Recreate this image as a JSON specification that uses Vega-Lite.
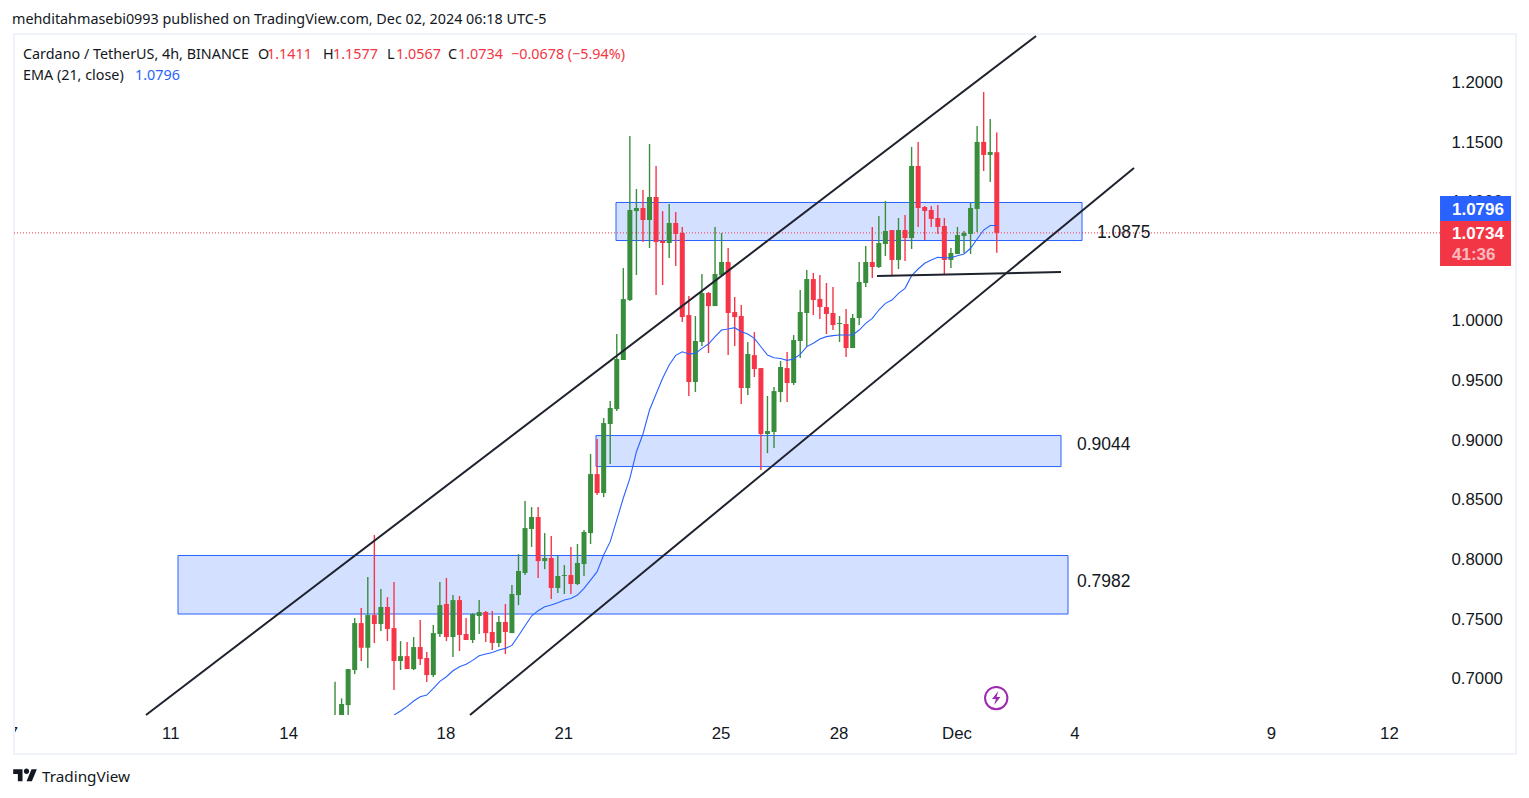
{
"$schema":"https://vega.github.io/schema/vega-lite/v6.json",
"width":1502,"height":680,"autosize":"none","background":"#ffffff",
"padding":{"left":14,"top":35,"right":13,"bottom":83},
"title":{"text":"mehditahmasebi0993 published on TradingView.com, Dec 02, 2024 06:18 UTC-5","anchor":"start","frame":"group","dx":-2,"offset":5,"font":"Noto Sans","fontSize":14.35,"fontWeight":"normal","color":"#131722"},
"config":{"view":{"stroke":null}},
"datasets":{
"candles":[
{"date":"2024-11-15T04:00Z","open":0.650,"high":0.6969,"low":0.645,"close":0.660,"dir":"up"},
{"date":"2024-11-15T08:00Z","open":0.664,"high":0.6829,"low":0.655,"close":0.6782,"dir":"up"},
{"date":"2024-11-15T12:00Z","open":0.6773,"high":0.7075,"low":0.662,"close":0.7075,"dir":"up"},
{"date":"2024-11-15T16:00Z","open":0.7067,"high":0.7503,"low":0.7033,"close":0.7461,"dir":"up"},
{"date":"2024-11-15T20:00Z","open":0.7461,"high":0.7587,"low":0.7143,"close":0.7254,"dir":"down"},
{"date":"2024-11-16T00:00Z","open":0.7254,"high":0.7847,"low":0.7084,"close":0.7528,"dir":"up"},
{"date":"2024-11-16T04:00Z","open":0.7528,"high":0.8200,"low":0.7294,"close":0.7453,"dir":"down"},
{"date":"2024-11-16T08:00Z","open":0.7453,"high":0.7747,"low":0.7394,"close":0.7596,"dir":"up"},
{"date":"2024-11-16T12:00Z","open":0.7596,"high":0.7679,"low":0.7310,"close":0.7411,"dir":"down"},
{"date":"2024-11-16T16:00Z","open":0.7419,"high":0.7805,"low":0.6899,"close":0.7143,"dir":"down","ema":0.6690},
{"date":"2024-11-16T20:00Z","open":0.7143,"high":0.7310,"low":0.7067,"close":0.7184,"dir":"up","ema":0.6723},
{"date":"2024-11-17T00:00Z","open":0.7184,"high":0.7302,"low":0.7075,"close":0.7075,"dir":"down","ema":0.6762},
{"date":"2024-11-17T04:00Z","open":0.7075,"high":0.7344,"low":0.7067,"close":0.7260,"dir":"up","ema":0.6807},
{"date":"2024-11-17T08:00Z","open":0.7260,"high":0.7486,"low":0.7109,"close":0.7159,"dir":"down","ema":0.6843},
{"date":"2024-11-17T12:00Z","open":0.7168,"high":0.7218,"low":0.6966,"close":0.7025,"dir":"down","ema":0.6857},
{"date":"2024-11-17T16:00Z","open":0.7025,"high":0.7445,"low":0.7008,"close":0.7377,"dir":"up","ema":0.6913},
{"date":"2024-11-17T20:00Z","open":0.7369,"high":0.7805,"low":0.7344,"close":0.7612,"dir":"up","ema":0.6972},
{"date":"2024-11-18T00:00Z","open":0.7621,"high":0.7839,"low":0.7310,"close":0.7344,"dir":"down","ema":0.7011},
{"date":"2024-11-18T04:00Z","open":0.7344,"high":0.7696,"low":0.7176,"close":0.7654,"dir":"up","ema":0.7061},
{"date":"2024-11-18T08:00Z","open":0.7654,"high":0.7688,"low":0.7226,"close":0.7361,"dir":"down","ema":0.7095},
{"date":"2024-11-18T12:00Z","open":0.7369,"high":0.7503,"low":0.7319,"close":0.7319,"dir":"down","ema":0.7115},
{"date":"2024-11-18T16:00Z","open":0.7319,"high":0.7545,"low":0.7294,"close":0.7537,"dir":"up","ema":0.7148},
{"date":"2024-11-18T20:00Z","open":0.7520,"high":0.7654,"low":0.7369,"close":0.7554,"dir":"up","ema":0.7187},
{"date":"2024-11-19T00:00Z","open":0.7554,"high":0.7562,"low":0.7302,"close":0.7377,"dir":"down","ema":0.7201},
{"date":"2024-11-19T04:00Z","open":0.7386,"high":0.7562,"low":0.7235,"close":0.7294,"dir":"down","ema":0.7215},
{"date":"2024-11-19T08:00Z","open":0.7294,"high":0.7520,"low":0.7260,"close":0.7470,"dir":"up","ema":0.7235},
{"date":"2024-11-19T12:00Z","open":0.7470,"high":0.7621,"low":0.7201,"close":0.7386,"dir":"down","ema":0.7249},
{"date":"2024-11-19T16:00Z","open":0.7377,"high":0.7780,"low":0.7377,"close":0.7705,"dir":"up","ema":0.7274},
{"date":"2024-11-19T20:00Z","open":0.7696,"high":0.8040,"low":0.7612,"close":0.7898,"dir":"up","ema":0.7355},
{"date":"2024-11-20T00:00Z","open":0.7881,"high":0.8485,"low":0.7864,"close":0.8258,"dir":"up","ema":0.7439},
{"date":"2024-11-20T04:00Z","open":0.8250,"high":0.8434,"low":0.8099,"close":0.8351,"dir":"up","ema":0.7520},
{"date":"2024-11-20T08:00Z","open":0.8351,"high":0.8434,"low":0.7839,"close":0.7981,"dir":"down","ema":0.7565},
{"date":"2024-11-20T12:00Z","open":0.7981,"high":0.8216,"low":0.7914,"close":0.8007,"dir":"up","ema":0.7598},
{"date":"2024-11-20T16:00Z","open":0.8007,"high":0.8191,"low":0.7663,"close":0.7755,"dir":"down","ema":0.7612},
{"date":"2024-11-20T20:00Z","open":0.7755,"high":0.8023,"low":0.7713,"close":0.7856,"dir":"up","ema":0.7632},
{"date":"2024-11-21T00:00Z","open":0.7856,"high":0.7948,"low":0.7705,"close":0.7864,"dir":"up","ema":0.7654},
{"date":"2024-11-21T04:00Z","open":0.7864,"high":0.8099,"low":0.7705,"close":0.7789,"dir":"down","ema":0.7668},
{"date":"2024-11-21T08:00Z","open":0.7789,"high":0.8124,"low":0.7780,"close":0.7965,"dir":"up","ema":0.7696},
{"date":"2024-11-21T12:00Z","open":0.7956,"high":0.8242,"low":0.7856,"close":0.8225,"dir":"up","ema":0.7752},
{"date":"2024-11-21T16:00Z","open":0.8216,"high":0.8879,"low":0.8124,"close":0.8711,"dir":"up","ema":0.7822},
{"date":"2024-11-21T20:00Z","open":0.8711,"high":0.9005,"low":0.8535,"close":0.8552,"dir":"down","ema":0.7892},
{"date":"2024-11-22T00:00Z","open":0.8552,"high":0.9181,"low":0.8518,"close":0.9139,"dir":"up","ema":0.8032},
{"date":"2024-11-22T04:00Z","open":0.9131,"high":0.9324,"low":0.8795,"close":0.9265,"dir":"up","ema":0.8144},
{"date":"2024-11-22T08:00Z","open":0.9256,"high":0.9886,"low":0.9240,"close":0.9676,"dir":"up","ema":0.8326},
{"date":"2024-11-22T12:00Z","open":0.9668,"high":1.0439,"low":0.9668,"close":1.0179,"dir":"up","ema":0.8510},
{"date":"2024-11-22T16:00Z","open":1.0171,"high":1.1547,"low":1.0162,"close":1.0926,"dir":"up","ema":0.8675},
{"date":"2024-11-22T20:00Z","open":1.0917,"high":1.1102,"low":1.0381,"close":1.0943,"dir":"up","ema":0.8898},
{"date":"2024-11-23T00:00Z","open":1.0943,"high":1.1094,"low":1.0657,"close":1.0842,"dir":"down","ema":0.9047},
{"date":"2024-11-23T04:00Z","open":1.0842,"high":1.1480,"low":1.0607,"close":1.1035,"dir":"up","ema":0.9248},
{"date":"2024-11-23T08:00Z","open":1.1035,"high":1.1295,"low":1.0213,"close":1.0657,"dir":"down","ema":0.9382},
{"date":"2024-11-23T12:00Z","open":1.0666,"high":1.0917,"low":1.0297,"close":1.0649,"dir":"down","ema":0.9514},
{"date":"2024-11-23T16:00Z","open":1.0649,"high":1.0976,"low":1.0523,"close":1.0817,"dir":"up","ema":0.9626},
{"date":"2024-11-23T20:00Z","open":1.0817,"high":1.0909,"low":1.0456,"close":1.0725,"dir":"down","ema":0.9707},
{"date":"2024-11-24T00:00Z","open":1.0733,"high":1.0783,"low":0.9986,"close":1.0028,"dir":"down","ema":0.9737},
{"date":"2024-11-24T04:00Z","open":1.0045,"high":1.0204,"low":0.9366,"close":0.9483,"dir":"down","ema":0.9718},
{"date":"2024-11-24T08:00Z","open":0.9483,"high":1.0037,"low":0.9399,"close":0.9827,"dir":"up","ema":0.9723},
{"date":"2024-11-24T12:00Z","open":0.9819,"high":1.0389,"low":0.9785,"close":1.0230,"dir":"up","ema":0.9765},
{"date":"2024-11-24T16:00Z","open":1.0230,"high":1.0238,"low":0.9726,"close":1.0120,"dir":"down","ema":0.9802},
{"date":"2024-11-24T20:00Z","open":1.0120,"high":1.0783,"low":1.0120,"close":1.0389,"dir":"up","ema":0.9863},
{"date":"2024-11-25T00:00Z","open":1.0378,"high":1.0733,"low":1.0378,"close":1.0490,"dir":"up","ema":0.9919},
{"date":"2024-11-25T04:00Z","open":1.0490,"high":1.0607,"low":0.9709,"close":1.0062,"dir":"down","ema":0.9928},
{"date":"2024-11-25T08:00Z","open":1.0070,"high":1.0196,"low":0.9785,"close":1.0028,"dir":"down","ema":0.9939},
{"date":"2024-11-25T12:00Z","open":1.0037,"high":1.0129,"low":0.9298,"close":0.9433,"dir":"down","ema":0.9905},
{"date":"2024-11-25T16:00Z","open":0.9433,"high":0.9819,"low":0.9374,"close":0.9718,"dir":"up","ema":0.9886},
{"date":"2024-11-25T20:00Z","open":0.9709,"high":0.9902,"low":0.9525,"close":0.9592,"dir":"down","ema":0.9849},
{"date":"2024-11-26T00:00Z","open":0.9600,"high":0.9600,"low":0.8745,"close":0.9047,"dir":"down","ema":0.9779},
{"date":"2024-11-26T04:00Z","open":0.9047,"high":0.9366,"low":0.8887,"close":0.9072,"dir":"up","ema":0.9709},
{"date":"2024-11-26T08:00Z","open":0.9064,"high":0.9441,"low":0.8929,"close":0.9407,"dir":"up","ema":0.9687},
{"date":"2024-11-26T12:00Z","open":0.9399,"high":0.9659,"low":0.9315,"close":0.9609,"dir":"up","ema":0.9681},
{"date":"2024-11-26T16:00Z","open":0.9600,"high":0.9735,"low":0.9315,"close":0.9475,"dir":"down","ema":0.9665},
{"date":"2024-11-26T20:00Z","open":0.9475,"high":0.9877,"low":0.9458,"close":0.9835,"dir":"up","ema":0.9676},
{"date":"2024-11-27T00:00Z","open":0.9827,"high":1.0255,"low":0.9685,"close":1.0070,"dir":"up","ema":0.9715},
{"date":"2024-11-27T04:00Z","open":1.0062,"high":1.0423,"low":0.9777,"close":1.0347,"dir":"up","ema":0.9780},
{"date":"2024-11-27T08:00Z","open":1.0347,"high":1.0398,"low":1.0045,"close":1.0171,"dir":"down","ema":0.9808},
{"date":"2024-11-27T12:00Z","open":1.0180,"high":1.0381,"low":1.0012,"close":1.0112,"dir":"down","ema":0.9844},
{"date":"2024-11-27T16:00Z","open":1.0112,"high":1.0314,"low":0.9886,"close":1.0054,"dir":"down","ema":0.9864},
{"date":"2024-11-27T20:00Z","open":1.0062,"high":1.0280,"low":0.9919,"close":0.9961,"dir":"down","ema":0.9872},
{"date":"2024-11-28T00:00Z","open":0.9970,"high":1.0037,"low":0.9819,"close":0.9978,"dir":"up","ema":0.9878},
{"date":"2024-11-28T04:00Z","open":0.9970,"high":1.0096,"low":0.9693,"close":0.9768,"dir":"down","ema":0.9878},
{"date":"2024-11-28T08:00Z","open":0.9768,"high":1.0054,"low":0.9768,"close":1.0020,"dir":"up","ema":0.9878},
{"date":"2024-11-28T12:00Z","open":1.0020,"high":1.0490,"low":0.9961,"close":1.0322,"dir":"up","ema":0.9919},
{"date":"2024-11-28T16:00Z","open":1.0314,"high":1.0624,"low":1.0280,"close":1.0490,"dir":"up","ema":0.9975},
{"date":"2024-11-28T20:00Z","open":1.0490,"high":1.0784,"low":1.0356,"close":1.0448,"dir":"down","ema":1.0017},
{"date":"2024-11-29T00:00Z","open":1.0448,"high":1.0876,"low":1.0440,"close":1.0649,"dir":"up","ema":1.0087},
{"date":"2024-11-29T04:00Z","open":1.0641,"high":1.1002,"low":1.0540,"close":1.0750,"dir":"up","ema":1.0143},
{"date":"2024-11-29T08:00Z","open":1.0758,"high":1.0758,"low":1.0381,"close":1.0507,"dir":"down","ema":1.0171},
{"date":"2024-11-29T12:00Z","open":1.0507,"high":1.0859,"low":1.0431,"close":1.0758,"dir":"up","ema":1.0227},
{"date":"2024-11-29T16:00Z","open":1.0758,"high":1.0884,"low":1.0498,"close":1.0691,"dir":"down","ema":1.0269},
{"date":"2024-11-29T20:00Z","open":1.0691,"high":1.1455,"low":1.0599,"close":1.1295,"dir":"up","ema":1.0375},
{"date":"2024-11-30T00:00Z","open":1.1295,"high":1.1497,"low":1.0784,"close":1.0943,"dir":"down","ema":1.0431},
{"date":"2024-11-30T04:00Z","open":1.0951,"high":1.0960,"low":1.0675,"close":1.0918,"dir":"down","ema":1.0479},
{"date":"2024-11-30T08:00Z","open":1.0926,"high":1.0960,"low":1.0784,"close":1.0851,"dir":"down","ema":1.0507},
{"date":"2024-11-30T12:00Z","open":1.0859,"high":1.0968,"low":1.0725,"close":1.0784,"dir":"down","ema":1.0529},
{"date":"2024-11-30T16:00Z","open":1.0792,"high":1.0859,"low":1.0381,"close":1.0507,"dir":"down","ema":1.0526},
{"date":"2024-11-30T20:00Z","open":1.0507,"high":1.0607,"low":1.0440,"close":1.0565,"dir":"up","ema":1.0526},
{"date":"2024-12-01T00:00Z","open":1.0557,"high":1.0784,"low":1.0557,"close":1.0716,"dir":"up","ema":1.0543},
{"date":"2024-12-01T04:00Z","open":1.0708,"high":1.0750,"low":1.0565,"close":1.0733,"dir":"up","ema":1.0557},
{"date":"2024-12-01T08:00Z","open":1.0725,"high":1.0985,"low":1.0557,"close":1.0943,"dir":"up","ema":1.0605},
{"date":"2024-12-01T12:00Z","open":1.0935,"high":1.1631,"low":1.0742,"close":1.1497,"dir":"up","ema":1.0683},
{"date":"2024-12-01T16:00Z","open":1.1497,"high":1.1916,"low":1.1253,"close":1.1388,"dir":"down","ema":1.0758},
{"date":"2024-12-01T20:00Z","open":1.1388,"high":1.1690,"low":1.1161,"close":1.1413,"dir":"up","ema":1.0796},
{"date":"2024-12-02T00:00Z","open":1.1411,"high":1.1577,"low":1.0567,"close":1.0734,"dir":"down","ema":1.0796}
],
"zones":[
{"date":"2024-11-22T07:32Z","date2":"2024-12-04T04:03Z","price":1.0989,"price2":1.0670},
{"date":"2024-11-21T19:19Z","date2":"2024-12-03T15:13Z","price":0.9034,"price2":0.8774},
{"date":"2024-11-11T04:08Z","date2":"2024-12-03T19:30Z","price":0.8028,"price2":0.7537}
],
"trends":[
{"line":"upper","date":"2024-11-10T08:35Z","price":0.6690},
{"line":"upper","date":"2024-12-03T00:00Z","price":1.2386},
{"line":"lower","date":"2024-11-18T14:24Z","price":0.6690},
{"line":"lower","date":"2024-12-05T11:47Z","price":1.1279},
{"line":"flat","date":"2024-11-28T22:53Z","price":1.0373},
{"line":"flat","date":"2024-12-03T15:13Z","price":1.0406}
],
"legend":[
{"date":"2024-11-07T05:30Z","price":1.2227,"label":"Cardano / TetherUS, 4h, BINANCE","tone":"dark"},
{"date":"2024-11-13T04:58Z","price":1.2227,"label":"O","tone":"dark"},
{"date":"2024-11-13T10:28Z","price":1.2227,"label":"1.1411","tone":"red"},
{"date":"2024-11-14T20:39Z","price":1.2227,"label":"H","tone":"dark"},
{"date":"2024-11-15T02:45Z","price":1.2227,"label":"1.1577","tone":"red"},
{"date":"2024-11-16T11:43Z","price":1.2227,"label":"L","tone":"dark"},
{"date":"2024-11-16T17:13Z","price":1.2227,"label":"1.0567","tone":"red"},
{"date":"2024-11-18T00:58Z","price":1.2227,"label":"C","tone":"dark"},
{"date":"2024-11-18T07:04Z","price":1.2227,"label":"1.0734","tone":"red"},
{"date":"2024-11-19T15:26Z","price":1.2227,"label":"−0.0678 (−5.94%)","tone":"red"},
{"date":"2024-11-07T05:30Z","price":1.2051,"label":"EMA (21, close)","tone":"dark"},
{"date":"2024-11-10T01:52Z","price":1.2051,"label":"1.0796","tone":"blue"}
],
"zoneLabels":[
{"date":"2024-12-04T13:12Z","price":1.0733,"label":"1.0875"},
{"date":"2024-12-04T00:58Z","price":0.8955,"label":"0.9044"},
{"date":"2024-12-04T00:58Z","price":0.7806,"label":"0.7982"}
],
"tags":[
{"date":"2024-12-13T06:37Z","date2":"2024-12-15T01:58Z","price":1.1044,"price2":1.0834,"tone":"ema"},
{"date":"2024-12-13T06:37Z","date2":"2024-12-15T01:58Z","price":1.0834,"price2":1.0456,"tone":"last"}
],
"tagLabels":[
{"date":"2024-12-13T13:55Z","price":1.0930,"label":"1.0796","alpha":"full"},
{"date":"2024-12-13T13:55Z","price":1.0722,"label":"1.0734","alpha":"full"},
{"date":"2024-12-13T13:55Z","price":1.0546,"label":"41:36","alpha":"soft"}
],
"lastPrice":[{"date":"2024-11-07T00:00Z","date2":"2024-12-13T06:37Z","price":1.0734}],
"frame":[{"date":"2024-11-07T00:00Z","date2":"2024-12-15T05:00Z","price":1.2403,"price2":0.6362}],
"mask":[{"date":"2024-11-06T15:30Z","date2":"2024-11-07T00:00Z","price":0.6648,"price2":0.6438}],
"brand":[{"date":"2024-11-07T17:05Z","price":0.6169,"label":"TradingView"}],
"logo":[{"date":"2024-11-07T06:50Z","price":0.6179}],
"flash":[{"date":"2024-12-01T23:40Z","price":0.6832}]
},
"encoding":{
"x":{"field":"date","type":"temporal","title":null,
"scale":{"type":"utc","domain":[1730937600000,1734238800000],"nice":false,"padding":0},
"axis":{"values":[1730937600000,1731283200000,1731542400000,1731888000000,1732147200000,1732492800000,1732752000000,1733011200000,1733270400000,1733702400000,1733961600000],
"labelExpr":"utcdate(datum.value)==1?'Dec':''+utcdate(datum.value)","domain":false,"ticks":false,"grid":false,"labelPadding":10,"labelOffset":-1,"labelFont":"Liberation Sans","labelFontSize":16.8,"labelColor":"#131722","labelOverlap":false,"labelBound":false,"labelFlush":false,"zindex":0}}
},
"layer":[
{"data":{"name":"mask"},"mark":{"type":"rect","fill":"#ffffff"},
"encoding":{"x2":{"field":"date2"},"y":{"field":"price","type":"quantitative","title":null,
"scale":{"domain":[0.6690,1.2394],"nice":false,"zero":false},
"axis":{"values":[0.7,0.75,0.8,0.85,0.9,0.95,1.0,1.1,1.15,1.2],"format":".4f","orient":"right","domain":false,"ticks":false,"grid":false,"labelAlign":"left","labelPadding":-65,"labelOffset":0.6,"labelFont":"Liberation Sans","labelFontSize":16.8,"labelColor":"#131722","zindex":0}},
"y2":{"field":"price2"}}},
{"data":{"name":"frame"},"mark":{"type":"rect","fillOpacity":0,"stroke":"#F0F3FA","strokeWidth":2},
"encoding":{"x2":{"field":"date2"},"y":{"field":"price","type":"quantitative"},"y2":{"field":"price2"}}},
{"data":{"name":"zones"},"mark":{"type":"rect","fill":"#2962FF","fillOpacity":0.2,"stroke":"#2962FF","strokeWidth":1},
"encoding":{"x2":{"field":"date2"},"y":{"field":"price","type":"quantitative"},"y2":{"field":"price2"}}},
{"data":{"name":"lastPrice"},"mark":{"type":"rule","color":"#F23645","strokeWidth":1,"strokeDash":[1,2]},
"encoding":{"x2":{"field":"date2"},"y":{"field":"price","type":"quantitative"}}},
{"data":{"name":"candles"},"mark":{"type":"rule","strokeWidth":1.4,"clip":true},
"encoding":{"y":{"field":"low","type":"quantitative"},"y2":{"field":"high"},
"color":{"field":"dir","type":"nominal","legend":null,"scale":{"domain":["up","down"],"range":["#388E3C","#F63648"]}}}},
{"data":{"name":"candles"},"mark":{"type":"bar","size":5,"clip":true},
"encoding":{"y":{"field":"open","type":"quantitative"},"y2":{"field":"close"},
"color":{"field":"dir","type":"nominal","legend":null,"scale":{"domain":["up","down"],"range":["#388E3C","#F63648"]}}}},
{"data":{"name":"candles"},"transform":[{"filter":"isValid(datum.ema)"}],"mark":{"type":"line","color":"#2962FF","strokeWidth":1.1,"clip":true,"interpolate":"linear"},
"encoding":{"y":{"field":"ema","type":"quantitative"}}},
{"data":{"name":"trends"},"mark":{"type":"line","color":"#1E222D","strokeWidth":2},
"encoding":{"y":{"field":"price","type":"quantitative"},"detail":{"field":"line"}}},
{"data":{"name":"legend"},"mark":{"type":"text","align":"left","baseline":"middle","font":"Noto Sans","fontSize":14.35},
"encoding":{"y":{"field":"price","type":"quantitative"},"text":{"field":"label"},
"color":{"field":"tone","type":"nominal","legend":null,"scale":{"domain":["dark","red","blue"],"range":["#131722","#F23645","#2962FF"]}}}},
{"data":{"name":"zoneLabels"},"mark":{"type":"text","align":"left","baseline":"middle","font":"Liberation Sans","fontSize":17.5,"color":"#131722"},
"encoding":{"y":{"field":"price","type":"quantitative"},"text":{"field":"label"}}},
{"data":{"name":"tags"},"mark":{"type":"rect"},
"encoding":{"x2":{"field":"date2"},"y":{"field":"price","type":"quantitative"},"y2":{"field":"price2"},
"color":{"field":"tone","type":"nominal","legend":null,"scale":{"domain":["ema","last"],"range":["#2962FF","#F23645"]}}}},
{"data":{"name":"tagLabels"},"mark":{"type":"text","align":"left","baseline":"middle","font":"Liberation Sans","fontSize":17,"fontWeight":"bold","color":"#ffffff"},
"encoding":{"y":{"field":"price","type":"quantitative"},"text":{"field":"label"},
"opacity":{"field":"alpha","type":"nominal","legend":null,"scale":{"domain":["full","soft"],"range":[1,0.65]}}}},
{"data":{"name":"brand"},"mark":{"type":"text","align":"left","baseline":"middle","font":"Noto Sans","fontSize":15.3,"color":"#131722"},
"encoding":{"y":{"field":"price","type":"quantitative"},"text":{"field":"label"}}},
{"data":{"name":"logo"},"mark":{"type":"point","filled":true,"opacity":1,"color":"#131722","size":576,"shape":"M-.222 .444H-.611V-.167H-1V-.556H-.222ZM.556 .444H.111L.528 -.556H.972ZM-.111 -.389a.222 .222 0 1 0 .444 0a.222 .222 0 1 0 -.444 0Z"},
"encoding":{"y":{"field":"price","type":"quantitative"}}},
{"data":{"name":"flash"},"mark":{"type":"point","shape":"circle","filled":false,"opacity":1,"color":"#9C27B0","strokeWidth":2,"size":500},
"encoding":{"y":{"field":"price","type":"quantitative"}}},
{"data":{"name":"flash"},"mark":{"type":"point","filled":true,"opacity":1,"color":"#9C27B0","size":196,"shape":"M.3 -1L-.6 .15H-.05L-.3 1L.6 -.15H.05Z"},
"encoding":{"y":{"field":"price","type":"quantitative"}}}
],
"resolve":{"scale":{"color":"independent"}}
}
